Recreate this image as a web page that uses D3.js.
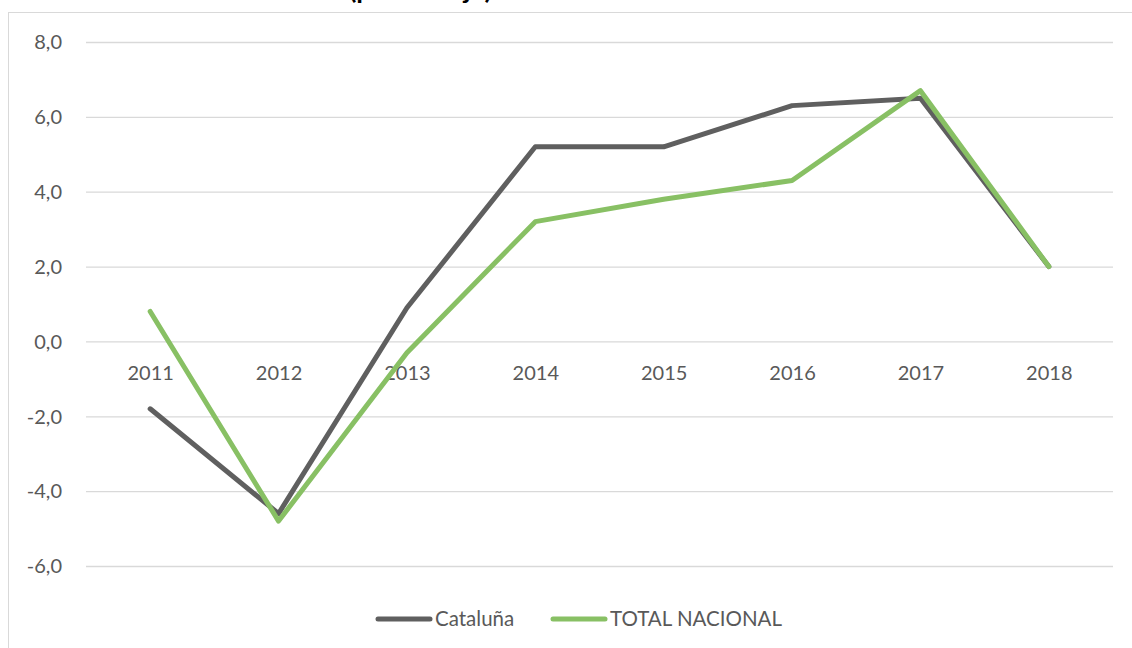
<!DOCTYPE html>
<html>
<head>
<meta charset="utf-8">
<script src="https://cdn.jsdelivr.net/npm/d3@7"></script>
<style>
  html, body { margin: 0; padding: 0; background: #fff; }
  svg { display: block; }
  text { font-family: Lato, "Open Sans", sans-serif; fill: #595959; }
</style>
</head>
<body>
<svg id="chart" width="1132" height="648"></svg>
<script>
// Annual rate of change, Cataluña vs national total
const years = ["2011", "2012", "2013", "2014", "2015", "2016", "2017", "2018"];
const cataluna = [-1.8, -4.6, 0.9, 5.2, 5.2, 6.3, 6.5, 2.0];
const totalNacional = [0.8, -4.8, -0.3, 3.2, 3.8, 4.3, 6.7, 2.0];
const yTicks = [8, 6, 4, 2, 0, -2, -4, -6];
const seriesNames = ["Cataluña", "TOTAL NACIONAL"];
const seriesColors = ["#5f5f5f", "#88c064"];

const svg = d3.select("#chart");
const W = 1132, H = 648;
const plot = { left: 86, right: 1113, top: 42, bottom: 566 };

// chart frame
svg.append("rect")
  .attr("x", 8.5).attr("y", 12.5)
  .attr("width", W + 20).attr("height", H + 20)
  .attr("fill", "#fff").attr("stroke", "#d9d9d9").attr("stroke-width", 1);

// title line running off the top edge; only its descenders remain visible
svg.append("text")
  .attr("x", 349).attr("y", -1)
  .attr("textLength", 143).attr("lengthAdjust", "spacingAndGlyphs")
  .style("font-weight", "bold").style("font-size", "24px").style("fill", "#000")
  .text("(porcentaje)");

const x = d3.scalePoint().domain(years).range([plot.left, plot.right]).padding(0.5);
const y = d3.scaleLinear().domain([-6, 8]).range([plot.bottom, plot.top]);

// horizontal gridlines
const yAxis = d3.axisLeft(y).tickValues(yTicks).tickSize(-(plot.right - plot.left))
  .tickFormat(d => d3.format(".1f")(d).replace(".", ",").replace("−", "-"));
const gy = svg.append("g").attr("transform", `translate(${plot.left},0)`).call(yAxis);
gy.select(".domain").remove();
gy.selectAll(".tick line").attr("stroke", "#d9d9d9").attr("stroke-width", 1.3);
gy.selectAll(".tick text").attr("x", -24).attr("dy", "0.34em")
  .style("font-size", "20px").style("fill", "#595959");

// category labels sit just under the zero line
const xAxis = d3.axisBottom(x).tickSize(0);
const gx = svg.append("g").attr("transform", `translate(0,${y(0)})`).call(xAxis);
gx.select(".domain").remove();
gx.selectAll(".tick text").attr("y", 32).attr("dy", "0.34em")
  .style("font-size", "20px").style("fill", "#595959");

// series lines
const line = d3.line().x((d, i) => x(years[i])).y(d => y(d));
[cataluna, totalNacional].forEach((vals, k) => {
  svg.append("path")
    .datum(vals)
    .attr("d", line)
    .attr("fill", "none")
    .attr("stroke", seriesColors[k])
    .attr("stroke-width", 5)
    .attr("stroke-linejoin", "round")
    .attr("stroke-linecap", "round");
});

// legend
const legendY = 619;
const legendX = [378, 553];
seriesNames.forEach((name, k) => {
  const g = svg.append("g").attr("transform", `translate(${legendX[k]},${legendY})`);
  g.append("line").attr("x1", 0).attr("x2", 52).attr("y1", 0).attr("y2", 0)
    .attr("stroke", seriesColors[k]).attr("stroke-width", 5).attr("stroke-linecap", "round");
  g.append("text").attr("x", 57).attr("y", 0).attr("dy", "0.35em")
    .style("font-size", "20.5px").text(name);
});
</script>
</body>
</html>
